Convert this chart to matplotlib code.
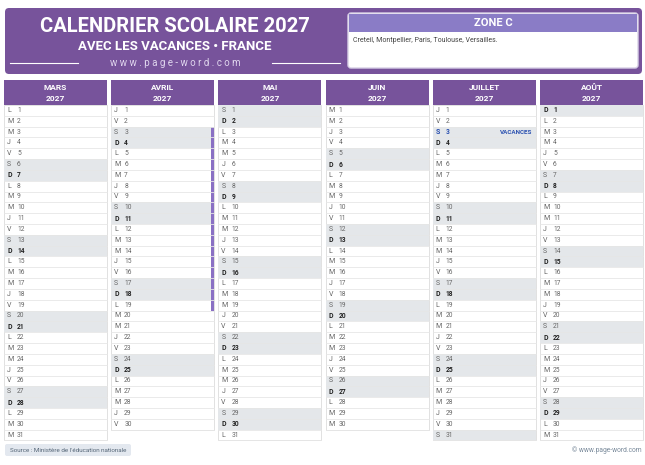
import calendar
import matplotlib
matplotlib.use("Agg")
import matplotlib.pyplot as plt
from matplotlib.patches import Rectangle, FancyBboxPatch

months = ["MARS", "AVRIL", "MAI", "JUIN", "JUILLET", "AOÛT"]
month_nums = [3, 4, 5, 6, 7, 8]
year = 2027
day_letters = ["L", "M", "M", "J", "V", "S", "D"]
vacation_bar = (1, 3, 19)        # (column index, first day, last day)
vacation_label = (4, 3, "VACANCES")
zone_title = "ZONE C"
zone_text = "Creteil, Montpellier, Paris, Toulouse, Versailles."

PURPLE = "#77539b"
plt.rcParams['font.family'] = ['Roboto', 'DejaVu Sans']
fig = plt.figure(figsize=(6.45, 4.65), dpi=100)
ax = fig.add_axes([0, 0, 1, 1])
ax.set_xlim(0, 645); ax.set_ylim(465, 0); ax.axis("off")

ax.add_patch(FancyBboxPatch((5, 8), 637, 66, boxstyle="round,pad=0,rounding_size=4", fc=PURPLE, ec="none"))
ax.text(175, 27, "CALENDRIER SCOLAIRE 2027", color="white", fontsize=14.5, fontweight="bold", ha="center", va="center")
ax.text(175, 47, "AVEC LES VACANCES • FRANCE", color="white", fontsize=9.5, fontweight="bold", ha="center", va="center")
ax.text(175, 63, "w w w . p a g e - w o r d . c o m", color="#e0d6ee", fontsize=7, ha="center", va="center")
ax.plot([10, 78], [63, 63], color="white", lw=0.8)
ax.plot([272, 340], [63, 63], color="white", lw=0.8)
ax.add_patch(FancyBboxPatch((348, 13), 290, 55, boxstyle="round,pad=0,rounding_size=3", fc="white", ec="#d8d0e6"))
ax.add_patch(Rectangle((349, 14), 288, 18, fc="#8a7cc6", ec="none"))
ax.text(493, 23, zone_title, color="white", fontsize=8, fontweight="bold", ha="center", va="center")
ax.text(353, 41, zone_text, color="#444444", fontsize=5, ha="left", va="center")

x0, w, gap = 4, 103, 4.2
top, hh, rh = 80, 25, 10.82
for ci, (mname, mn) in enumerate(zip(months, month_nums)):
    x = x0 + ci * (w + gap)
    ndays = calendar.monthrange(year, mn)[1]
    ax.add_patch(Rectangle((x, top + hh), w, ndays * rh, fc="white", ec="#dcdcdc", lw=0.6))
    ax.add_patch(Rectangle((x, top), w, hh, fc=PURPLE, ec="none"))
    ax.text(x + w / 2, top + 8, mname, color="white", fontsize=6, fontweight="bold", ha="center", va="center")
    ax.text(x + w / 2, top + 18, str(year), color="white", fontsize=6, fontweight="bold", ha="center", va="center")
    for d in range(1, ndays + 1):
        wd = calendar.weekday(year, mn, d)
        y = top + hh + (d - 1) * rh
        if wd >= 5:
            ax.add_patch(Rectangle((x, y), w, rh, fc="#e4e7ea", ec="none"))
        ax.plot([x, x + w], [y + rh, y + rh], color="#e6e6e6", lw=0.6)
        bold = wd == 6
        col = "#222222" if bold else "#666666"
        if (ci, d) == vacation_label[:2]:
            col = "#2a50b0"; bold = True
            ax.text(x + w - 3, y + rh / 2, vacation_label[2], color=col, fontsize=4.5, fontweight="bold", ha="right", va="center")
        ax.text(x + 3, y + rh / 2, day_letters[wd], color=col, fontsize=5, fontweight="bold" if bold else "normal", ha="left", va="center")
        ax.text(x + 13, y + rh / 2, str(d), color=col, fontsize=4.8, fontweight="bold" if bold else "normal", ha="left", va="center")
    if ci == vacation_bar[0]:
        y1 = top + hh + (vacation_bar[1] - 1) * rh
        y2 = top + hh + vacation_bar[2] * rh
        ax.add_patch(Rectangle((x + w - 3, y1), 3, y2 - y1, fc="#8a70c4", ec="none"))

ax.add_patch(FancyBboxPatch((5, 444), 126, 12, boxstyle="round,pad=0,rounding_size=2", fc="#e3e8ef", ec="none"))
ax.text(68, 450, "Source : Ministère de l'éducation nationale", color="#556677", fontsize=4.5, ha="center", va="center")
ax.text(642, 450, "© www.page-word.com", color="#778899", fontsize=4.8, ha="right", va="center")
fig.savefig("out.png", dpi=100)
